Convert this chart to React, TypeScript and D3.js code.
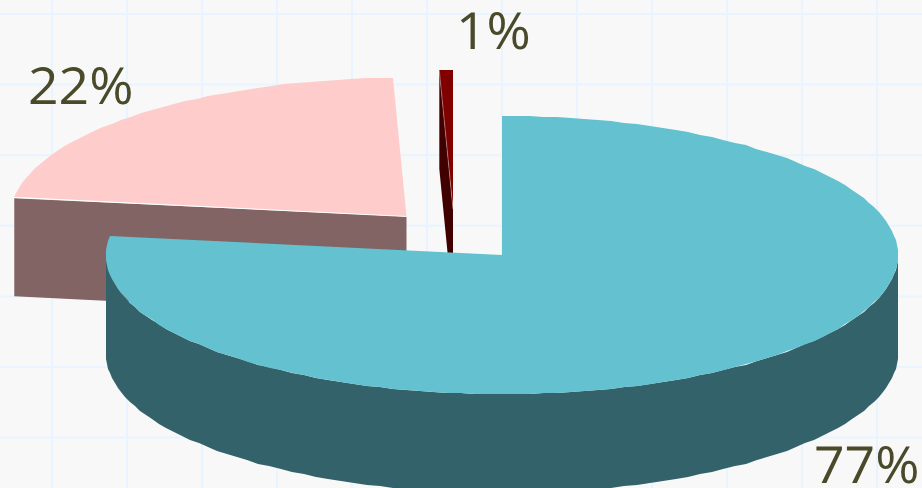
import * as d3 from "d3";

const width = 922;
const height = 488;

// values, labels show them rounded
const categories = ["Teal", "Pink", "Red"];
const values = [77.2, 22.25, 0.55];
const labels = ["77%", "22%", "1%"];

const topColors = ["#64c1d0", "#ffcccc", "#800000"];
const sideColors = ["#34626a", "#826464", "#400000"];

const gridXs = d3.range(-1, 13);
const gridYs = d3.range(0, 7);

const rx = 396;
const ry = 139;
const depth = 99;

// centre of each slice after it is pulled out of the pie
const centers: [number, number][] = [[502, 255], [406.5, 216.5], [453, 209]];
const labelPos: [number, number][] = [[814, 483], [28, 104], [456, 49]];

const gridX = d3.scaleLinear().domain([0, 1]).range([52, 127]);
const gridY = d3.scaleLinear().domain([0, 1]).range([14, 84.6]);

const pie = d3.pie<number>().sort(null);
const slices = pie(values);

const project = (a: number, cx: number, cy: number, dy = 0): [number, number] => [
    cx + rx * Math.sin(a),
    cy - ry * Math.cos(a) + dy,
];

const line = d3.line();

// outer rim sampled in short straight steps, the reference is a bit jagged too
const rim = (a0: number, a1: number, cx: number, cy: number, dy = 0) => {
    const n = Math.max(2, Math.ceil(Math.abs(a1 - a0) / 0.035));
    return d3.range(n + 1).map(i => {
        const [x, y] = project(a0 + ((a1 - a0) * i) / n, cx, cy, dy);
        return [Math.round(x), Math.round(y)] as [number, number];
    });
};

const topPath = (i: number) => {
    const [cx, cy] = centers[i];
    const pts = rim(slices[i].startAngle, slices[i].endAngle, cx, cy);
    return line([[cx, cy], ...pts]) + "Z";
};

const sidePath = (i: number) => {
    const [cx, cy] = centers[i];
    if (i === 0) {
        // front of the rim, only as far round as the left extreme
        const a0 = Math.PI / 2;
        const a1 = (3 * Math.PI) / 2;
        return line([...rim(a0, a1, cx, cy), ...rim(a1, a0, cx, cy, depth)]) + "Z";
    }
    // cut face that looks towards the viewer
    const p = project(slices[i].startAngle, cx, cy);
    return line([[p[0], p[1] + 1], [p[0], p[1] + depth], [cx, cy + depth], [cx, cy]]) + "Z";
};

// thin light seam between a top and its cut face
const seamPath = (i: number) =>
    line([project(slices[i].startAngle, centers[i][0], centers[i][1]), centers[i]]) ?? "";

const drawOrder = [1, 2, 0];

export default function App() {
    return (
        <svg
            width={width}
            height={height}
            viewBox={`0 0 ${width} ${height}`}
            style={{position: "fixed", left: 0, top: 0, background: "#f8f8f8"}}
        >
            <g stroke="#e8f4ff" strokeWidth={2}>
                {gridXs.map(t => (
                    <line key={t} x1={gridX(t)} x2={gridX(t)} y1={0} y2={height}/>
                ))}
                {gridYs.map(t => (
                    <line key={t} x1={0} x2={width} y1={gridY(t)} y2={gridY(t)}/>
                ))}
            </g>
            {drawOrder.map(i => (
                <g key={categories[i]}>
                    <path d={sidePath(i)} fill={sideColors[i]}/>
                    <path d={topPath(i)} fill={topColors[i]}/>
                    {i !== 0 && (
                        <path d={seamPath(i)} fill="none" stroke="#fff" strokeOpacity={i === 1 ? 0.9 : 0.35} strokeWidth={1}/>
                    )}
                </g>
            ))}
            <g fontFamily="'Open Sans'" fontSize={51} fill="#4a4a2a">
                {labels.map((l, i) => (
                    <text
                        key={l}
                        transform={`translate(${labelPos[i][0]},${labelPos[i][1]}) scale(1.05,1)`}
                        textRendering="geometricPrecision"
                    >{l}</text>
                ))}
            </g>
        </svg>
    );
}
